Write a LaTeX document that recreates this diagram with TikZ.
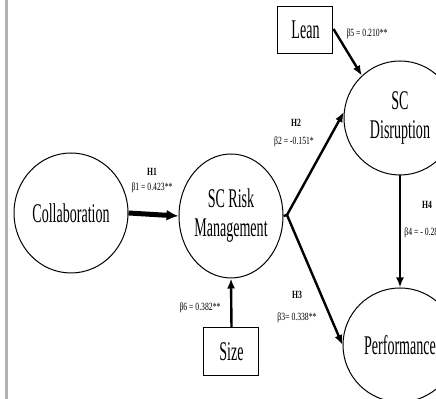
\documentclass[tikz,border=0pt]{standalone}
\usepackage{fontspec}
\setmainfont{Liberation Serif}[FakeStretch=0.52]
\newfontfamily\betafont{Liberation Serif}[FakeStretch=0.7]
\usetikzlibrary{shapes.geometric,arrows.meta}

\tikzset{
    construct/.style={draw, ellipse, line width=0.5pt, inner sep=0pt, align=center,
        font=\fontsize{13.5}{14.5}\selectfont},
    control/.style={draw, rectangle, line width=0.5pt, inner sep=0pt,
        minimum width=27.5pt, minimum height=23.5pt, font=\fontsize{13.5}{14.5}\selectfont},
    path/.style={line width=1.2pt, -{Latex[length=5pt,width=4pt]}},
    hyp/.style={inner sep=0pt, font=\betafont\bfseries\fontsize{5.5}{6}\selectfont},
    coef/.style={inner sep=0pt, font=\betafont\fontsize{5.5}{6}\selectfont}
}

\begin{document}
\begin{tikzpicture}[x=0.5pt, y=-0.5pt]
        \clip (0,0) rectangle (436,399);
        \fill[white] (0,0) rectangle (436,399);
        \draw[gray!60, line width=1.2pt] (6.5,0) -- (6.5,399);

        \node[construct, minimum width=57pt, minimum height=60pt] (collab) at (71,213) {Collaboration};
        \node[construct, minimum width=52pt, minimum height=62pt] (scrm) at (231,216) {SC Risk\\Management};
        \node[construct, minimum width=56pt, minimum height=57pt] (disr) at (400,118) {SC\\Disruption};
        \node[construct, minimum width=57pt, minimum height=57pt] (perf) at (400,345) {Performance};

        \node[control] (lean) at (305.5,30) {Lean};
        \node[control, minimum height=24pt] (size) at (231.5,352) {Size};

        \coordinate (fork) at (287,215);

        \draw[path, line width=2.5pt, -{Latex[length=6pt,width=5.5pt]}] (collab.east) -- (scrm.west);
        \draw[path] (lean.east) ++(0,-1) -- (disr.132);
        \draw[line width=1.2pt] (scrm.east) -- (fork);
        \draw[path] (fork) -- (disr.174);
        \draw[path] (fork) -- (perf.west);
        \draw[path] (disr.south) -- (perf.north);
        \draw[path] (size.north) -- (scrm.south);

        \node[hyp] (h1) at (152,172) {H1};
        \node[coef] (b1) at (152,188) {β1 = 0.423**};
        \node[hyp] (h2) at (296,123) {H2};
        \node[coef] (b2) at (294,142) {β2 = -0.151*};
        \node[hyp] (h3) at (297,295) {H3};
        \node[coef] (b3) at (297,318) {β3= 0.338**};
        \node[hyp] (h4) at (427,205) {H4};
        \node[coef, anchor=west] (b4) at (404,233) {β4 = - 0.28};
        \node[coef] (b5) at (367,34) {β5 = 0.210**};
        \node[coef] (b6) at (200,308) {β6 = 0.382**};
\end{tikzpicture}
\end{document}
